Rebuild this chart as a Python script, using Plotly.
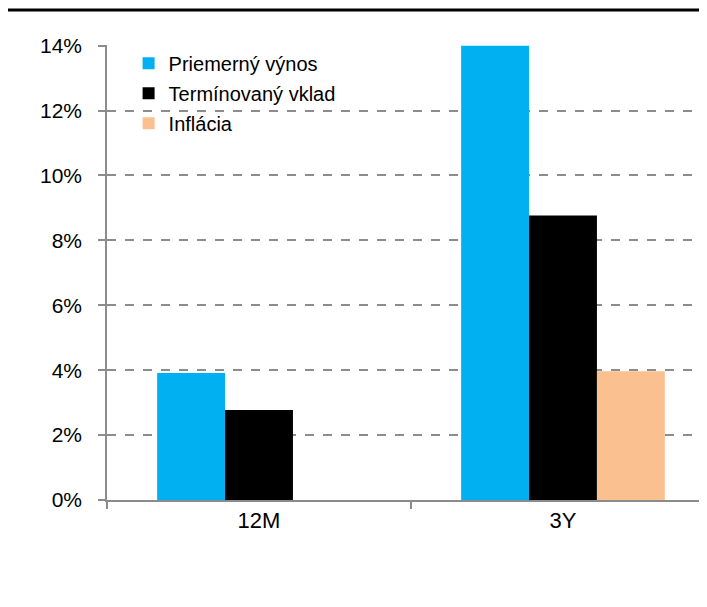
import plotly.graph_objects as go

categories = ["12M", "3Y"]
series_names = ["Priemerný výnos", "Termínovaný vklad", "Inflácia"]
priemerny = [3.91, 14.0]
terminovany = [2.77, 8.77]
inflacia = [None, 3.97]
colors = ["#00B0F0", "#000000", "#FAC090"]
y_ticks = [0, 2, 4, 6, 8, 10, 12, 14]
y_tick_labels = ["0%", "2%", "4%", "6%", "8%", "10%", "12%", "14%"]

fig = go.Figure()
for name, vals, col in zip(series_names, [priemerny, terminovany, inflacia], colors):
    fig.add_trace(go.Bar(
        x=categories, y=vals, name=name, legendgroup=name,
        marker=dict(color=col, line=dict(width=0)),
    ))

FONT = "Liberation Sans"
fig.update_layout(
    width=699, height=599,
    margin=dict(l=99, r=0, t=37, b=107, pad=0),
    paper_bgcolor="white", plot_bgcolor="white",
    barmode="group", bargap=0.33, bargroupgap=0,
    font=dict(family=FONT, size=20, color="#000000"),
    showlegend=True,
    legend=dict(
        x=0.036, y=1.003, xanchor="left", yanchor="top",
        font=dict(family=FONT, size=20, color="#000000"),
        bgcolor="rgba(0,0,0,0)", tracegroupgap=1,
        itemwidth=30,
    ),
    xaxis=dict(
        range=[-0.5, 1.4737],
        showline=True, linecolor="#8C8C8C", linewidth=1.5,
        ticks="outside", ticklen=7, tickcolor="#8C8C8C", tickwidth=1.5,
        tickson="boundaries", showgrid=False,
        tickfont=dict(family=FONT, size=22, color="#000000"),
        fixedrange=True,
    ),
    yaxis=dict(
        range=[0, 14.02],
        tickvals=y_ticks, ticktext=y_tick_labels,
        showline=True, linecolor="#8C8C8C", linewidth=1.5,
        ticks="outside", ticklen=7, tickcolor="#8C8C8C", tickwidth=1.5,
        showgrid=True, gridcolor="#8C8C8C", gridwidth=1.5, griddash="dash",
        zeroline=False,
        tickfont=dict(family=FONT, size=21, color="#000000"),
        ticklabelstandoff=12,
    ),
)

fig.add_shape(type="line", xref="paper", yref="paper",
              x0=-0.2, x1=1.0, y0=(492 - 2) / 455, y1=(492 - 2) / 455,
              line=dict(color="#000000", width=3))

fig.write_html("out.html")
